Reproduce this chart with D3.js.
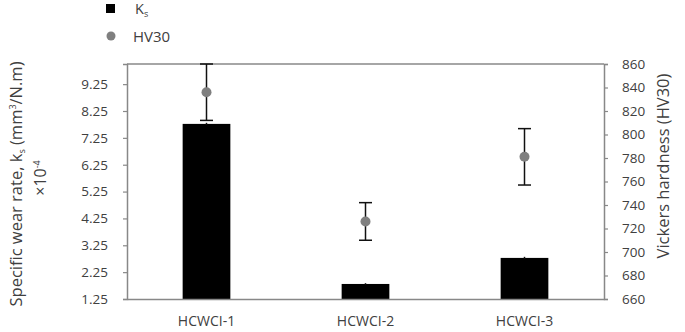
<!DOCTYPE html>
<html>
<head>
<meta charset="utf-8">
<script src="https://cdn.jsdelivr.net/npm/d3@7"></script>
<style>
  body { margin: 0; background: #fff; }
  text { font-family: "Open Sans", sans-serif; fill: #404040; }
</style>
</head>
<body>
<svg width="685" height="332"></svg>
<script>
// chart data
const samples = ["HCWCI-1", "HCWCI-2", "HCWCI-3"];
const ksValues = [7.77, 1.81, 2.78];
const ksErrors = [0.04, 0.03, 0.04];
const hvValues = [836, 726, 781];
const hvErrors = [24, 16, 24];
const ksTicks = [1.25, 2.25, 3.25, 4.25, 5.25, 6.25, 7.25, 8.25, 9.25];
const hvTicks = [660, 680, 700, 720, 740, 760, 780, 800, 820, 840, 860];

function drawChart() {
    let svg = d3.select("svg");
    let margin = {left: 127, right: 81, top: 64, bottom: 33};
    let width = 685 - margin.left - margin.right;
    let height = 332 - margin.top - margin.bottom;

    let g = svg.append("g")
        .attr("transform", "translate(" + margin.left + "," + margin.top + ")");

    let x = d3.scaleBand()
        .domain(samples)
        .range([0, width])
        .paddingInner(0.7)
        .paddingOuter(0.35);

    let yLeft = d3.scaleLinear().domain([1.25, 10]).range([height, 0]);
    let yRight = d3.scaleLinear().domain([660, 860]).range([height, 0]);

    // top frame line
    g.append("line")
        .attr("x1", 0).attr("x2", width)
        .attr("y1", 0).attr("y2", 0)
        .attr("stroke", "#888").attr("stroke-width", 1.5);

    // bars
    g.selectAll("rect.bar")
        .data(ksValues)
        .enter()
        .append("rect")
        .attr("class", "bar")
        .attr("x", function (d, i) { return x(samples[i]); })
        .attr("width", x.bandwidth())
        .attr("y", function (d) { return yLeft(d); })
        .attr("height", function (d) { return height - yLeft(d); })
        .attr("fill", "#000");

    // small ks error bars
    ksValues.forEach(function (d, i) {
        let cx = x(samples[i]) + x.bandwidth() / 2;
        g.append("line")
            .attr("x1", cx).attr("x2", cx)
            .attr("y1", yLeft(d - ksErrors[i])).attr("y2", yLeft(d + ksErrors[i]))
            .attr("stroke", "#111").attr("stroke-width", 1.5);
    });

    // hv error bars + points
    hvValues.forEach(function (d, i) {
        let cx = x(samples[i]) + x.bandwidth() / 2;
        let top = yRight(d + hvErrors[i]);
        let bot = yRight(d - hvErrors[i]);
        g.append("line")
            .attr("x1", cx).attr("x2", cx)
            .attr("y1", top).attr("y2", bot)
            .attr("stroke", "#111").attr("stroke-width", 1.5);
        [top, bot].forEach(function (yy) {
            g.append("line")
                .attr("x1", cx - 6.5).attr("x2", cx + 6.5)
                .attr("y1", yy).attr("y2", yy)
                .attr("stroke", "#111").attr("stroke-width", 1.5);
        });
        g.append("circle")
            .attr("cx", cx)
            .attr("cy", yRight(d))
            .attr("r", 5)
            .attr("fill", "#7f7f7f");
    });

    // axes
    let leftAxis = g.append("g")
        .call(d3.axisLeft(yLeft).tickValues(ksTicks).tickSize(4).tickPadding(15)
            .tickFormat(d3.format(".2f")));
    let rightAxis = g.append("g")
        .attr("transform", "translate(" + width + ",0)")
        .call(d3.axisRight(yRight).tickValues(hvTicks).tickSize(4).tickPadding(14));
    let bottomAxis = g.append("g")
        .attr("transform", "translate(0," + height + ")")
        .call(d3.axisBottom(x).tickSize(0).tickPadding(17));

    [leftAxis, rightAxis, bottomAxis].forEach(function (a) {
        a.select(".domain").attr("stroke", "#888").attr("stroke-width", 1.5);
        a.selectAll(".tick line").attr("stroke", "#888").attr("stroke-width", 1.2);
        a.selectAll("text").style("font-size", "13.5px").attr("fill", "#404040");
    });
    bottomAxis.selectAll("text").style("font-size", "14px");

    // left title
    let lt = svg.append("text")
        .attr("transform", "translate(22,184) rotate(-90)")
        .attr("text-anchor", "middle")
        .style("font-size", "16.5px");
    lt.append("tspan").text("Specific wear rate, k");
    lt.append("tspan").attr("dy", 2.5).style("font-size", "9px").text("s");
    lt.append("tspan").attr("dy", -2.5).text(" (mm");
    lt.append("tspan").attr("dy", -6).style("font-size", "9px").text("3");
    lt.append("tspan").attr("dy", 6).text("/N.m)");

    let lt2 = svg.append("text")
        .attr("transform", "translate(46,178) rotate(-90)")
        .attr("text-anchor", "middle")
        .style("font-size", "16px");
    lt2.append("tspan").text("×10");
    lt2.append("tspan").attr("dy", -6).style("font-size", "9px").text("-4");

    // right title
    svg.append("text")
        .attr("transform", "translate(669,166) rotate(-90)")
        .attr("text-anchor", "middle")
        .style("font-size", "16.5px")
        .text("Vickers hardness (HV30)");

    // legend
    svg.append("rect")
        .attr("x", 106).attr("y", 4)
        .attr("width", 9).attr("height", 9)
        .attr("fill", "#000");
    let lk = svg.append("text").attr("x", 135).attr("y", 14).style("font-size", "14.5px");
    lk.append("tspan").text("K");
    lk.append("tspan").attr("dy", 3).style("font-size", "9px").text("s");

    svg.append("circle")
        .attr("cx", 111).attr("cy", 36).attr("r", 4.5)
        .attr("fill", "#7f7f7f");
    svg.append("text").attr("x", 133).attr("y", 42).style("font-size", "15px").text("HV30");
}

drawChart();
</script>
</body>
</html>
